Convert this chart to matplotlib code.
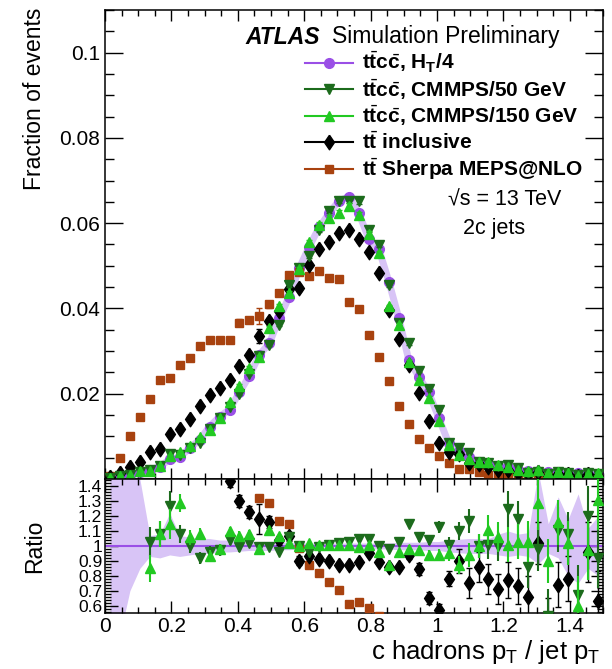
import numpy as np
import matplotlib
matplotlib.use("Agg")
import matplotlib.pyplot as plt
from matplotlib.ticker import MultipleLocator, FuncFormatter

plt.rcParams['font.family'] = ['Liberation Sans', 'DejaVu Sans']
plt.rcParams['mathtext.fontset'] = 'custom'
plt.rcParams['mathtext.rm'] = 'Liberation Sans'
plt.rcParams['mathtext.it'] = 'Liberation Sans:italic'
plt.rcParams['mathtext.bf'] = 'Liberation Sans:bold'

# ---------------- data ----------------
bin_low = 0.0
bin_width = 0.03
n_bins = 50

ht4 = [0.0002, 0.0007, 0.0009, 0.0017, 0.0021, 0.0029, 0.0046, 0.0052, 0.0072, 0.0092,
       0.0123, 0.0146, 0.0163, 0.0203, 0.0242, 0.0291, 0.0318, 0.0377, 0.0428, 0.0494,
       0.0545, 0.0590, 0.0623, 0.0653, 0.0662, 0.0623, 0.0562, 0.0539, 0.0463, 0.0377,
       0.0279, 0.0240, 0.0203, 0.0144, 0.0084, 0.0065, 0.0051, 0.0041, 0.0036, 0.0030,
       0.0027, 0.0021, 0.0018, 0.0017, 0.0016, 0.0015, 0.0014, 0.0013, 0.0012, 0.0011]

cmmps50 = [0.0003, 0.0007, 0.0010, 0.0016, 0.0022, 0.0031, 0.0058, 0.0056, 0.0072, 0.0085,
           0.0118, 0.0142, 0.0170, 0.0200, 0.0247, 0.0288, 0.0315, 0.0362, 0.0454, 0.0494,
           0.0523, 0.0584, 0.0629, 0.0653, 0.0653, 0.0651, 0.0584, 0.0549, 0.0454, 0.0366,
           0.0320, 0.0254, 0.0211, 0.0163, 0.0085, 0.0072, 0.0061, 0.0041, 0.0037, 0.0030,
           0.0034, 0.0025, 0.0015, 0.0017, 0.0011, 0.0017, 0.0015, 0.0009, 0.0014, 0.0011]

cmmps150 = [0.0003, 0.0008, 0.0010, 0.0018, 0.0019, 0.0031, 0.0053, 0.0063, 0.0077, 0.0098,
            0.0114, 0.0144, 0.0180, 0.0219, 0.0260, 0.0287, 0.0354, 0.0406, 0.0436, 0.0492,
            0.0556, 0.0596, 0.0612, 0.0625, 0.0640, 0.0620, 0.0575, 0.0530, 0.0405, 0.0362,
            0.0275, 0.0233, 0.0191, 0.0135, 0.0080, 0.0057, 0.0048, 0.0041, 0.0040, 0.0032,
            0.0027, 0.0022, 0.0019, 0.0022, 0.0014, 0.0017, 0.0014, 0.0008, 0.0012, 0.0014]

inclusive = [0.0004, 0.0013, 0.0027, 0.0041, 0.0063, 0.0070, 0.0106, 0.0117, 0.0141, 0.0172,
             0.0196, 0.0213, 0.0232, 0.0264, 0.0291, 0.0336, 0.0371, 0.0393, 0.0445, 0.0448,
             0.0502, 0.0539, 0.0555, 0.0576, 0.0584, 0.0562, 0.0532, 0.0482, 0.0397, 0.0328,
             0.0267, 0.0201, 0.0135, 0.0085, 0.0064, 0.0058, 0.0038, 0.0035, 0.0028, 0.0021,
             0.0021, 0.0015, 0.0012, 0.0017, 0.0008, 0.0011, 0.0011, 0.0007, 0.0012, 0.0007]

sherpa = [0.0008, 0.0049, 0.0102, 0.0146, 0.0188, 0.0232, 0.0238, 0.0267, 0.0283, 0.0313,
          0.0326, 0.0326, 0.0326, 0.0367, 0.0373, 0.0382, 0.0410, 0.0437, 0.0479, 0.0486,
          0.0476, 0.0489, 0.0471, 0.0469, 0.0414, 0.0398, 0.0338, 0.0285, 0.0230, 0.0171,
          0.0129, 0.0093, 0.0072, 0.0054, 0.0038, 0.0024, 0.0024, 0.0017, 0.0009, 0.0007,
          0.0006, 0.0005, 0.0005, 0.0004, 0.0004, 0.0004, 0.0003, 0.0003, 0.0003, 0.0003]

# ratio to H_T/4 (>1.45 or <0.55 are off scale)
nan = np.nan
ratio_cmmps50 = [nan, nan, nan, nan, 1.03, 1.08, 1.27, 1.08, 1.00, 0.92,
                 0.96, 0.97, 1.04, 0.99, 1.02, 0.99, 0.99, 0.96, 1.06, 1.00,
                 0.96, 0.99, 1.01, 1.02, 1.03, 1.05, 1.05, 1.00, 0.98, 1.03,
                 1.15, 1.06, 1.04, 1.13, 1.01, 1.10, 1.17, 1.00, 1.01, 1.00,
                 1.25, 1.18, 0.86, 0.98, 0.53, 1.11, 1.08, 0.67, 1.20, 0.92]
err_cmmps50 = [0, 0, 0, 0, 0.10, 0.09, 0.10, 0.06, 0.05, 0.04,
               0.04, 0.035, 0.03, 0.03, 0.03, 0.025, 0.025, 0.02, 0.02, 0.02,
               0.02, 0.02, 0.02, 0.02, 0.02, 0.02, 0.02, 0.02, 0.02, 0.02,
               0.03, 0.03, 0.035, 0.04, 0.05, 0.06, 0.08, 0.08, 0.10, 0.10,
               0.12, 0.12, 0.14, 0.15, 0.18, 0.15, 0.15, 0.20, 0.20, 0.20]

ratio_cmmps150 = [nan, nan, nan, nan, 0.85, 1.08, 1.15, 1.29, 1.06, 1.08,
                  0.93, 0.98, 1.10, 1.07, 1.08, 0.98, 1.11, 1.07, 1.02, 1.00,
                  1.02, 1.01, 1.01, 1.01, 1.01, 0.99, 1.01, 0.96, 0.87, 0.96,
                  0.98, 0.97, 0.94, 0.94, 0.95, 0.87, 0.94, 1.00, 1.11, 1.06,
                  1.01, 1.03, 1.03, 1.29, 0.90, 1.16, 1.02, 0.60, 0.97, 1.31]
err_cmmps150 = [0, 0, 0, 0, 0.09, 0.09, 0.10, 0.06, 0.05, 0.04,
                0.04, 0.035, 0.03, 0.03, 0.03, 0.025, 0.025, 0.02, 0.02, 0.02,
                0.02, 0.02, 0.02, 0.02, 0.02, 0.02, 0.02, 0.02, 0.02, 0.02,
                0.03, 0.03, 0.035, 0.04, 0.05, 0.06, 0.08, 0.08, 0.10, 0.10,
                0.12, 0.12, 0.14, 0.18, 0.15, 0.15, 0.15, 0.20, 0.20, 0.20]

ratio_inclusive = [2.0, 1.9, 2.9, 2.4, 3.0, 2.4, 2.3, 2.25, 1.96, 1.87,
                   1.60, 1.55, 1.435, 1.30, 1.23, 1.18, 1.16, 1.04, 1.065, 0.90,
                   0.93, 0.91, 0.90, 0.87, 0.87, 0.89, 0.95, 0.89, 0.86, 0.856,
                   0.94, 0.845, 0.65, 0.57, 0.78, 0.90, 0.75, 0.86, 0.78, 0.71,
                   0.77, 0.73, 0.66, 1.02, 0.50, 0.74, 0.78, 0.50, 0.96, 0.63]
err_inclusive = [0, 0, 0, 0, 0, 0, 0, 0, 0, 0,
                 0.05, 0.05, 0.04, 0.04, 0.04, 0.10, 0.04, 0.03, 0.03, 0.03,
                 0.02, 0.02, 0.02, 0.02, 0.02, 0.02, 0.02, 0.02, 0.02, 0.02,
                 0.03, 0.04, 0.04, 0.04, 0.05, 0.08, 0.10, 0.10, 0.10, 0.10,
                 0.12, 0.12, 0.14, 0.14, 0.15, 0.15, 0.15, 0.20, 0.20, 0.20]

ratio_sherpa = [4.0, 7.0, 11.3, 8.6, 9.0, 8.0, 5.2, 5.1, 3.9, 3.4,
                2.65, 2.23, 2.0, 1.81, 1.54, 1.324, 1.292, 1.169, 1.146, 0.984,
                0.875, 0.822, 0.757, 0.706, 0.613, 0.625, 0.583, 0.53, 0.50, 0.45,
                0.46, 0.39, 0.35, 0.37, 0.45, 0.37, 0.47, 0.41, 0.25, 0.23,
                0.22, 0.24, 0.28, 0.24, 0.25, 0.27, 0.21, 0.23, 0.25, 0.27]

band_up = [0.95, 0.90, 0.60, 0.45, 0.07, 0.08, 0.22, 0.07, 0.06, 0.05,
           0.05, 0.04, 0.04, 0.035, 0.03, 0.03, 0.03, 0.025, 0.025, 0.02,
           0.02, 0.02, 0.02, 0.02, 0.02, 0.02, 0.02, 0.02, 0.02, 0.025,
           0.025, 0.025, 0.03, 0.03, 0.04, 0.045, 0.05, 0.05, 0.05, 0.08,
           0.10, 0.08, 0.09, 0.50, 0.15, 0.33, 0.18, 0.35, 0.12, 0.20]
band_dn = [0.95, 0.60, 0.30, 0.15, 0.07, 0.08, 0.06, 0.07, 0.06, 0.05,
           0.05, 0.04, 0.04, 0.035, 0.03, 0.03, 0.03, 0.025, 0.025, 0.02,
           0.02, 0.02, 0.02, 0.02, 0.02, 0.02, 0.02, 0.02, 0.02, 0.025,
           0.025, 0.025, 0.03, 0.03, 0.04, 0.045, 0.05, 0.05, 0.05, 0.06,
           0.07, 0.06, 0.07, 0.12, 0.05, 0.08, 0.20, 0.25, 0.15, 0.20]

labels = [r"t$\bar{\mathbf{t}}$c$\bar{\mathbf{c}}$, H$_\mathbf{T}$/4",
          r"t$\bar{\mathbf{t}}$c$\bar{\mathbf{c}}$, CMMPS/50 GeV",
          r"t$\bar{\mathbf{t}}$c$\bar{\mathbf{c}}$, CMMPS/150 GeV",
          r"t$\bar{\mathbf{t}}$ inclusive",
          r"t$\bar{\mathbf{t}}$ Sherpa MEPS@NLO"]

# ---------------- styles ----------------
c_ht = '#9a4fe6'
c_band = '#d8c4f6'
c_d50 = '#1c6b1c'
c_l150 = '#22c922'
c_blk = 'black'
c_sh = '#a8420f'
diamond = [(0, 1), (0.68, 0), (0, -1), (-0.68, 0), (0, 1)]

x = bin_low + bin_width * (np.arange(n_bins) + 0.5)
ht4 = np.array(ht4)

fig = plt.figure(figsize=(6.12, 6.69), dpi=100)
L, R = 105 / 612, 603 / 612
ax = fig.add_axes([L, 1 - 479 / 669, R - L, 469 / 669])
rax = fig.add_axes([L, 1 - 613 / 669, R - L, 134 / 669])

# upper panel
ax.fill_between(x, ht4 * (1 - np.array(band_dn) * 0.6), ht4 * (1 + np.array(band_up) * 0.6),
                color=c_band, lw=0, zorder=1)
ax.plot(x, ht4, color=c_band, lw=5, zorder=1.5, solid_capstyle='round')

series = [
    (ht4, err_cmmps50, c_ht, 'o', 7.0, 2),
    (np.array(sherpa), err_inclusive, c_sh, 's', 6.0, 3),
    (np.array(inclusive), err_inclusive, c_blk, diamond, 10.5, 4),
    (np.array(cmmps50), err_cmmps50, c_d50, 'v', 7.5, 5),
    (np.array(cmmps150), err_cmmps150, c_l150, '^', 7.5, 6),
]
for vals, rerr, col, mk, ms, z in series:
    ax.errorbar(x, vals, yerr=vals * np.array(rerr) * 0.5, fmt='', marker=mk, ls='none',
                color=col, ms=ms, mec=col, mfc=col, elinewidth=1.0, capsize=2.5,
                capthick=1.0, zorder=z)

ax.set_xlim(0, 1.5)
ax.set_ylim(0, 0.11)

# lower panel
rax.fill_between(x, 1 - np.array(band_dn), 1 + np.array(band_up), color=c_band, lw=0, zorder=1)
rax.axhline(1.0, color=c_ht, lw=1.5, zorder=2)
rax.plot(x, ratio_sherpa, marker='s', ls='none', color=c_sh, ms=6.0, zorder=3)
rax.errorbar(x, ratio_inclusive, yerr=err_inclusive, fmt='', marker=diamond, ls='none',
             color=c_blk, ms=10.5, elinewidth=1.0, capsize=2.5, capthick=1.0, zorder=4)
rax.errorbar(x, ratio_cmmps50, yerr=err_cmmps50, fmt='', marker='v', ls='none', color=c_d50,
             ms=7.5, elinewidth=1.5, capsize=0, zorder=5)
rax.errorbar(x, ratio_cmmps150, yerr=err_cmmps150, fmt='', marker='^', ls='none',
             color=c_l150, ms=7.5, elinewidth=1.5, capsize=0, zorder=6)
rax.set_xlim(0, 1.5)
rax.set_ylim(0.55, 1.45)

# ticks
fmt = FuncFormatter(lambda v, p: ('%g' % round(v, 4)))
for a in (ax, rax):
    a.xaxis.set_major_locator(MultipleLocator(0.2))
    a.xaxis.set_minor_locator(MultipleLocator(0.05))
    a.tick_params(which='both', direction='in', top=True, right=True, width=1.0,
                  labelsize=15)
    for s in a.spines.values():
        s.set_linewidth(1.1)
ax.yaxis.set_major_locator(MultipleLocator(0.02))
ax.yaxis.set_minor_locator(MultipleLocator(0.005))
ax.yaxis.set_major_formatter(FuncFormatter(lambda v, p: '' if abs(v) < 1e-9 else '%g' % round(v, 4)))
ax.tick_params(axis='y', which='major', length=13)
ax.tick_params(axis='y', which='minor', length=6.5)
ax.tick_params(axis='x', which='major', length=8)
ax.tick_params(axis='x', which='minor', length=4)
ax.tick_params(axis='x', labelbottom=False)

rax.yaxis.set_major_locator(MultipleLocator(0.1))
rax.yaxis.set_minor_locator(MultipleLocator(0.02))
rax.yaxis.set_major_formatter(fmt)
rax.xaxis.set_major_formatter(fmt)
rax.tick_params(axis='y', which='major', length=9, pad=2, labelsize=12.5)
rax.tick_params(axis='y', which='minor', length=4)
rax.tick_params(axis='x', which='major', length=9, pad=3)
rax.tick_params(axis='x', which='minor', length=4.5)

# axis titles
fig.text(35 / 612, 1 - 8 / 669, 'Fraction of events', rotation=90, ha='center', va='top',
         fontsize=16.5)
fig.text(35 / 612, 1 - 546 / 669, 'Ratio', rotation=90, ha='center', va='center',
         fontsize=16.5)
fig.text(600 / 612, 1 - 652 / 669, r'c hadrons p$_\mathregular{T}$ / jet p$_\mathregular{T}$',
         ha='right', va='center', fontsize=18.5)

# labels
fig.text(245 / 612, 1 - 37 / 669, 'ATLAS', fontsize=16.5, fontweight='bold', style='italic',
         va='center', ha='left')
fig.text(332 / 612, 1 - 37 / 669, 'Simulation Preliminary', fontsize=16.5, va='center', ha='left')
fig.text(448 / 612, 1 - 200 / 669, '√s = 13 TeV', fontsize=15.5, va='center', ha='left')
fig.text(463 / 612, 1 - 229 / 669, '2c jets', fontsize=15.5, va='center', ha='left')

# legend (drawn by hand in ROOT style)
leg_styles = [(c_ht, 'o', 7.0), (c_d50, 'v', 7.5), (c_l150, '^', 7.5),
              (c_blk, diamond, 10.5), (c_sh, 's', 6.0)]
for k, (lab, (col, mk, ms)) in enumerate(zip(labels, leg_styles)):
    py = 62.7 + 26.5 * k
    fy = 1 - py / 669
    fig.add_artist(plt.Line2D([305 / 612, 353 / 612], [fy, fy], color=col, lw=1.5,
                              transform=fig.transFigure))
    fig.add_artist(plt.Line2D([329 / 612], [fy], color=col, marker=mk, ms=ms, lw=0,
                              transform=fig.transFigure))
    fig.text(362 / 612, fy, lab, fontsize=15, fontweight='bold', va='center', ha='left')

fig.savefig('out.png', dpi=100)
